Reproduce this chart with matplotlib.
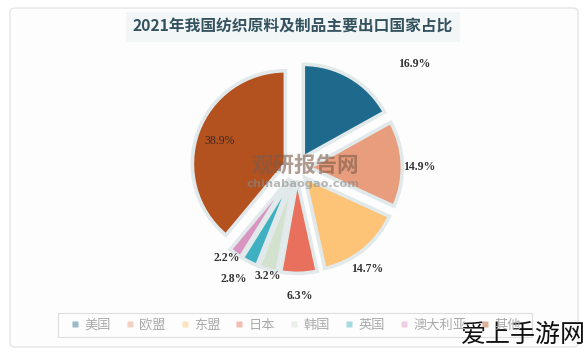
import matplotlib
matplotlib.use("Agg")
import matplotlib.pyplot as plt
from matplotlib.patches import FancyBboxPatch, Rectangle
from matplotlib.lines import Line2D
import numpy as np

plt.rcParams['font.family'] = ['Noto Sans CJK SC', 'DejaVu Sans']

# data
countries = ['美国', '欧盟', '东盟', '日本', '韩国', '英国', '澳大利亚', '其他']
shares = [16.9, 14.9, 14.7, 6.3, 3.2, 2.8, 2.2, 38.9]
colors = ['#1d6a8c', '#e89d7c', '#fdc376', '#e8705c', '#d3e2cf', '#3eb0c1', '#d895c2', '#b3511f']
title = '2021年我国纺织原料及制品主要出口国家占比'

# label placement (distance from centre in radii, angle nudge in degrees)
label_dist = [1.68, 1.31, 1.32, 1.38, 1.20, 1.37, 1.23, 0.885]
label_turn = [-18, -2, -4, 0, 1, -3, -2, 1]

W, H = 586, 355
fig = plt.figure(figsize=(W / 100, H / 100), dpi=100)
fig.patch.set_facecolor('white')

# outer frame
fig.patches.append(FancyBboxPatch((10 / W, 8 / H), 568 / W, 339 / H,
                                  boxstyle='round,pad=0,rounding_size=0.01',
                                  transform=fig.transFigure, facecolor='#fdfdfd',
                                  edgecolor='#e6e6e6', linewidth=1.0, zorder=-5))

# pie axes, centre at (297, 168) px, radius ~93 px
cx, cy, R = 297, 168, 93
S = 150
ax = fig.add_axes([(cx - S) / W, (H - cy - S) / H, 2 * S / W, 2 * S / H])
ax.axis('off')

wedges, texts = ax.pie(shares, colors=colors, startangle=90, counterclock=False,
                       explode=[0.133] * len(shares), radius=1.0,
                       labels=[f'{v}%' for v in shares],
                       wedgeprops=dict(edgecolor='#e2e9ea', linewidth=2.6),
                       textprops=dict(family='Liberation Serif', fontweight='bold',
                                      fontsize=8.5, color='#333333'))
ax.set_xlim(-S / R, S / R)
ax.set_ylim(-S / R, S / R)
for w, t, d, turn in zip(wedges, texts, label_dist, label_turn):
    ang = np.deg2rad((w.theta1 + w.theta2) / 2 + turn)
    t.set_position((d * np.cos(ang), d * np.sin(ang)))
    t.set_ha('center')
    t.set_va('center')
texts[-1].set_fontweight('normal')
texts[-1].set_color('#3b2a22')

# watermark
fig.text(305 / W, 1 - 165 / H, '观研报告网', fontsize=15.5, fontweight='bold',
         color='#7d5a4a', alpha=0.6, ha='center', va='center')
fig.text(303 / W, 1 - 184 / H, 'chinabaogao.com', fontsize=8.2, fontweight='bold',
         color='#8a8a8a', alpha=0.6, ha='center', va='center', family='DejaVu Sans')

# title
fig.text(293 / W, 1 - 27 / H, title, fontsize=11.3, fontweight='bold', color='#33525e',
         ha='center', va='center',
         bbox=dict(facecolor='#f2f6f7', edgecolor='none', pad=5))

# legend
fig.patches.append(Rectangle((58 / W, 1 - 337 / H), 474 / W, 24 / H,
                             transform=fig.transFigure, facecolor='none',
                             edgecolor='#dddddd', linewidth=0.8))
handles = [Line2D([], [], marker='s', linestyle='none', markersize=4.5,
                  markerfacecolor=c, markeredgecolor='none', alpha=0.45) for c in colors]
leg = fig.legend(handles, countries, loc='center', bbox_to_anchor=(296 / W, 1 - 325 / H),
                 ncol=len(countries), fontsize=9.5, frameon=False,
                 handlelength=0.6, handletextpad=0.4, columnspacing=1.15,
                 borderpad=0.2, labelcolor='#ababab')

fig.text(523 / W, 1 - 335 / H, '爱上手游网', fontsize=18, color='#111111',
         ha='center', va='center')

fig.savefig('out.png', dpi=100)
